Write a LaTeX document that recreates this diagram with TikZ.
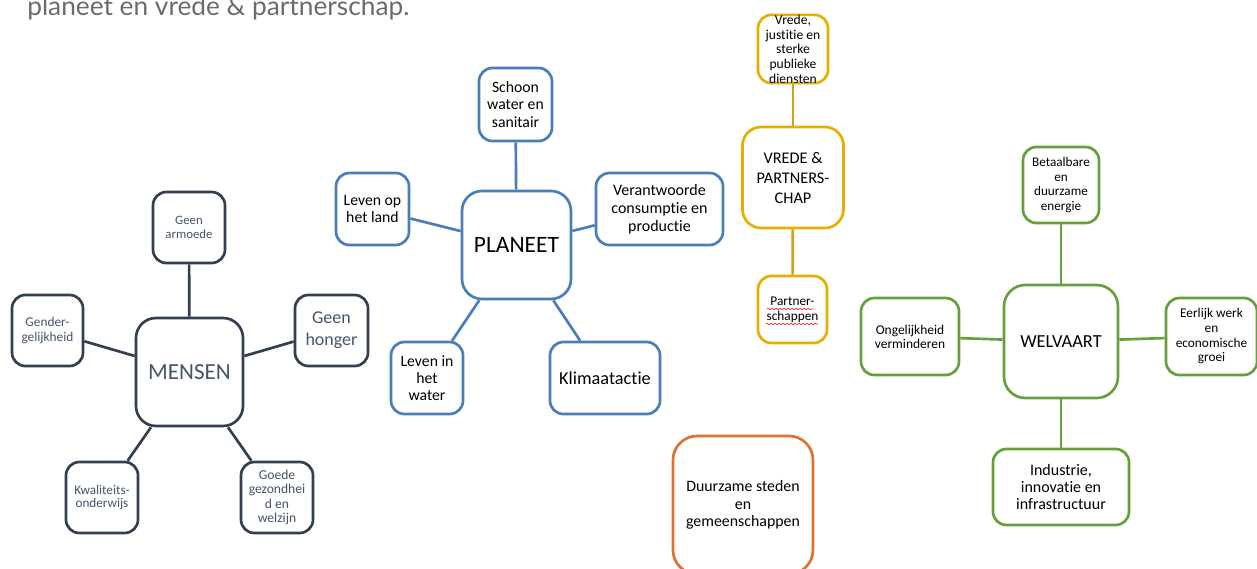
\documentclass[tikz,border=0pt]{standalone}
\usepackage{fontspec}
\setmainfont{Carlito}[Ligatures=NoCommon]
\newfontfamily\titelfont{Lato}[Ligatures=NoCommon]
\usetikzlibrary{decorations.pathmorphing}
\definecolor{mensenrand}{HTML}{333F50}
\definecolor{mensentekst}{HTML}{44546A}
\definecolor{planeetblauw}{HTML}{4A7EBB}
\definecolor{vredegoud}{HTML}{E6AF00}
\definecolor{vredelijn}{HTML}{CFA21C}
\definecolor{welvaartgroen}{HTML}{66A03C}
\definecolor{stedenoranje}{HTML}{DC7132}
\definecolor{titelgrijs}{HTML}{6B6B6B}
\newcommand{\grootte}[2]{\fontsize{#1}{#2}\selectfont}
\begin{document}
\begin{tikzpicture}[x=0.75pt,y=-0.75pt,
		vak/.style={draw,line width=2pt,rounded corners=10pt,inner sep=0pt,align=center},
		maat/.style 2 args={minimum width=#1*0.75pt,minimum height=#2*0.75pt},
		mensen/.style={vak,draw=mensenrand,text=mensentekst},
		planeet/.style={vak,draw=planeetblauw},
		vrede/.style={vak,draw=vredegoud},
		welvaart/.style={vak,draw=welvaartgroen},
		lijn/.style={line width=2pt}]
	\clip (0,0) rectangle (1257,568);
	
	\node (titel) at (27,15)[anchor=base west,inner sep=0pt,text=titelgrijs,font=\titelfont\grootte{19.7pt}{22pt}]{planeet en vrede \& partnerschap.};
	
	% mensen
	\node (men) at (189.5,372)[mensen,maat={107}{108},rounded corners=15pt,font=\grootte{17.3pt}{20pt}]{MENSEN};
	\node (armoede) at (189,227.5)[mensen,maat={72}{71},font=\grootte{9.6pt}{10.6pt}]{Geen\\armoede};
	\node (gender) at (47.5,330.5)[mensen,maat={71}{71},font=\grootte{10pt}{10.6pt}]{Gender-\\gelijkheid};
	\node (honger) at (331.5,330.5)[mensen,maat={73}{71},font=\grootte{13.5pt}{16.5pt}]{Geen\\honger};
	\node (kwal) at (102,497.5)[mensen,maat={72}{71},font=\grootte{9.9pt}{10.4pt}]{Kwaliteits-\\onderwijs};
	\node (goede) at (277,497.5)[mensen,maat={72}{71},font=\grootte{10.2pt}{10.9pt}]{Goede\\gezondhei\\d en\\welzijn};
	\draw[lijn,mensenrand] (armoede)--(men);
	\draw[lijn,mensenrand] (gender)--(men);
	\draw[lijn,mensenrand] (honger)--(men);
	\draw[lijn,mensenrand] (kwal)--(men);
	\draw[lijn,mensenrand] (goede)--(men);
	
	% planeet
	\node (pla) at (516.5,245)[planeet,maat={109}{108},rounded corners=15pt,font=\grootte{17.6pt}{20pt}]{PLANEET};
	\node (schoon) at (515.5,104.5)[planeet,maat={73}{73},font=\grootte{11.8pt}{13pt}]{Schoon\\water en\\sanitair};
	\node (land) at (372.5,209)[planeet,maat={73}{72},font=\grootte{11.8pt}{13.2pt}]{Leven op\\het land};
	\node (verant) at (659.5,209)[planeet,maat={127}{72},font=\grootte{12pt}{13.5pt}]{Verantwoorde\\consumptie en\\productie};
	\node (lwater) at (427,378)[planeet,maat={72}{72},font=\grootte{11.8pt}{13pt}]{Leven in\\het\\water};
	\node (klimaat) at (605,378)[planeet,maat={110}{72},font=\grootte{13.7pt}{16pt}]{Klimaatactie};
	\draw[lijn,planeetblauw] (schoon)--(pla);
	\draw[lijn,planeetblauw] (land)--(pla);
	\draw[lijn,planeetblauw] (verant)--(pla);
	\draw[lijn,planeetblauw] (lwater)--(pla);
	\draw[lijn,planeetblauw] (klimaat)--(pla);
	
	% vrede en partnerschap
	\node (vrede) at (793,177.5)[vrede,maat={101}{101},rounded corners=14pt,font=\grootte{12.2pt}{15pt}]{VREDE \&\\PARTNERS-\\CHAP};
	\node (justitie) at (793,49)[vrede,maat={70}{68},font=\grootte{10.2pt}{11pt}]{Vrede,\\justitie en\\sterke\\publieke\\diensten};
	\node (partners) at (792.5,309.5)[vrede,maat={69}{67},font=\grootte{10pt}{11.2pt}]{Partner-\\schappen};
	\draw[lijn,vredelijn] (justitie)--(vrede);
	\draw[lijn,vredelijn] (partners)--(vrede);
	\draw[red,line width=0.4pt,decorate,decoration={snake,amplitude=0.6pt,segment length=3pt}] (767,309)--(813,309);
	\draw[red,line width=0.4pt,decorate,decoration={snake,amplitude=0.6pt,segment length=3pt}] (766,324)--(818,324);
	
	% welvaart
	\node (wel) at (1061,341.5)[welvaart,maat={114}{113},rounded corners=16pt,font=\grootte{13.8pt}{16pt}]{WELVAART};
	\node (betaal) at (1061,185)[welvaart,maat={76}{76},font=\grootte{9.9pt}{11pt}]{Betaalbare\\en\\duurzame\\energie};
	\node (ongel) at (910,336.5)[welvaart,maat={98}{77},font=\grootte{10.1pt}{10.5pt}]{Ongelijkheid\\verminderen};
	\node (eerlijk) at (1211.5,336.5)[welvaart,maat={91}{77},font=\grootte{10pt}{11pt}]{Eerlijk werk\\en\\economische\\groei};
	\node (indus) at (1061,487)[welvaart,maat={136}{76},font=\grootte{12pt}{12.5pt}]{Industrie,\\innovatie en\\infrastructuur};
	\draw[lijn,welvaartgroen] (betaal)--(wel);
	\draw[lijn,welvaartgroen] (ongel)--(wel);
	\draw[lijn,welvaartgroen] (eerlijk)--(wel);
	\draw[lijn,welvaartgroen] (indus)--(wel);
	
	% duurzame steden
	\node (steden) at (743,505)[vak,draw=stedenoranje,maat={140}{138},rounded corners=18pt,font=\grootte{11.9pt}{13.1pt}]{Duurzame steden\\en\\gemeenschappen};
\end{tikzpicture}
\end{document}
